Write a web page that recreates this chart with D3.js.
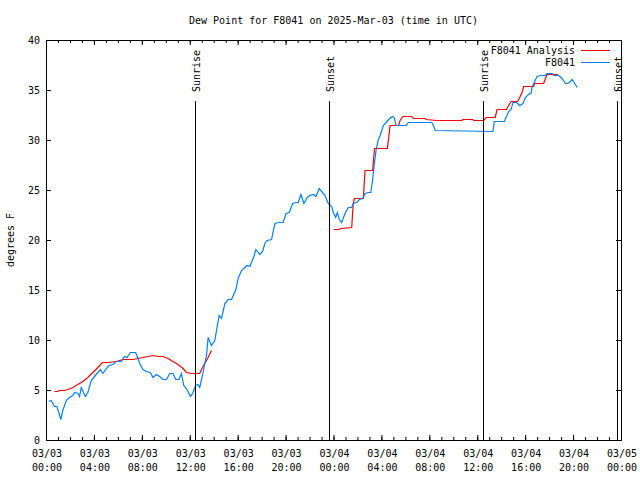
<!DOCTYPE html>
<html>
<head>
<meta charset="utf-8">
<script src="https://cdn.jsdelivr.net/npm/d3@7"></script>
<style>
  body { margin: 0; background: #fff; }
  svg { display: block; }
  text { font-family: "DejaVu Sans Mono", monospace; font-size: 10px; fill: #000; }
</style>
</head>
<body>
<svg id="chart" width="640" height="480"></svg>
<script>
// ---------------- data ----------------
const titleText = "Dew Point for F8041 on 2025-Mar-03 (time in UTC)";
const yLabelText = "degrees F";
const startTime = "2025-03-03T00:00:00Z";
const endTime = "2025-03-05T00:00:00Z";

// hours since 2025-03-03 00:00 UTC
const obsHours = [0.19,0.39,0.67,0.86,1.03,1.20,1.36,1.65,1.92,2.20,
  2.34,2.62,2.76,2.90,3.09,3.24,3.45,3.74,4.01,4.29,
  4.49,4.71,4.93,5.21,5.54,5.83,6.25,6.52,6.72,7.00,
  7.44,7.64,7.78,8.05,8.34,8.67,8.89,9.17,9.45,9.73,
  10.01,10.29,10.56,10.79,11.06,11.26,11.46,11.68,12.02,12.23,
  12.44,12.65,12.79,13.02,13.21,13.36,13.49,13.77,14.05,14.41,
  14.61,14.89,15.16,15.45,15.81,16.00,16.28,16.56,16.75,16.98,
  17.31,17.48,17.67,17.81,18.04,18.23,18.42,18.79,18.92,19.07,
  19.34,19.76,19.99,20.26,20.55,20.82,21.02,21.24,21.49,21.77,
  21.99,22.27,22.50,22.77,22.97,23.25,23.52,23.81,23.94,24.14,
  24.28,24.44,24.64,24.92,25.20,25.48,25.61,25.90,26.12,26.40,
  26.59,26.87,27.07,27.22,27.35,27.51,27.68,27.85,27.99,28.12,
  28.35,28.63,28.91,29.02,29.19,30.02,30.21,32.17,32.30,32.45,
  37.27,37.38,38.22,38.58,38.78,38.94,39.22,39.33,39.50,39.78,
  39.97,40.33,40.45,40.53,40.67,40.95,41.23,41.65,41.79,42.21,
  42.34,42.76,43.04,43.32,43.51,43.74,43.88,44.10,44.30];
const obsValues = [3.9,4.0,3.4,3.4,2.8,2.1,3.0,4.0,4.3,4.5,
  4.8,4.7,4.4,5.3,4.8,4.4,4.8,6.0,6.4,6.8,
  7.1,6.7,7.1,7.5,7.6,7.9,7.9,8.4,8.3,8.8,
  8.8,8.2,7.7,7.1,6.9,6.8,6.3,6.6,6.4,6.1,
  6.1,6.7,6.7,6.1,6.1,6.7,5.5,5.2,4.4,4.8,
  5.5,5.6,5.3,6.5,7.7,8.5,10.3,9.5,10.0,12.5,
  12.2,13.7,14.1,14.1,15.1,16.2,17.0,17.3,17.5,17.4,
  18.4,19.1,18.8,18.6,18.9,19.7,20.0,20.1,20.9,21.7,
  21.8,21.8,22.7,22.8,23.7,23.8,23.8,24.6,23.7,24.3,
  24.5,24.6,24.4,25.2,24.9,24.5,23.7,23.4,22.8,22.3,
  22.8,22.1,21.8,22.7,23.3,23.3,23.7,23.8,24.1,24.2,
  24.7,24.8,24.8,26.0,27.5,29.0,30.0,30.5,31.0,31.5,
  31.8,32.2,32.4,32.3,31.5,31.5,31.8,31.8,31.5,31.0,
  30.9,31.9,31.9,32.9,33.1,33.8,33.8,33.7,33.5,33.7,
  34.3,34.7,34.7,35.3,35.7,36.4,36.5,36.5,36.7,36.7,
  36.5,36.5,36.2,35.7,35.7,35.9,36.1,35.7,35.3];

const anaHours = [0.67,0.94,1.09,1.51,1.78,2.20,2.62,3.04,3.45,3.87,
  4.29,4.66,5.13,5.83,6.38,7.22,7.64,8.05,8.47,8.89,
  9.31,9.73,10.14,10.56,10.98,11.40,11.68,12.10,12.38,12.79,
  13.02,13.21,13.49,13.77,
  18.00,
  24.00,24.44,24.56,25.48,25.55,25.61,25.70,26.45,26.59,27.22,
  27.39,28.46,28.68,29.38,29.52,29.74,30.50,30.63,31.61,31.69,
  32.59,34.68,34.76,35.60,35.65,36.49,36.71,37.46,37.61,38.39,
  38.58,38.78,39.33,39.50,39.70,39.83,40.67,40.73,41.50,41.65,
  41.79,42.62,42.73];
const anaValues = [4.9,4.9,5.0,5.0,5.1,5.3,5.6,5.9,6.3,6.8,
  7.3,7.8,7.8,7.9,8.1,8.1,8.2,8.3,8.4,8.5,
  8.4,8.4,8.2,7.9,7.6,7.2,6.8,6.7,6.7,6.7,
  7.3,7.7,8.3,9.0,
  null,
  21.1,21.1,21.2,21.3,22.7,23.7,24.2,24.2,27.0,27.0,
  29.2,29.2,31.5,31.5,32.0,32.4,32.4,32.2,32.2,32.1,
  32.0,32.0,32.1,32.1,32.0,32.0,32.3,32.3,33.1,33.1,
  33.5,33.9,33.9,34.3,34.8,35.4,35.4,35.7,35.7,36.2,
  36.6,36.6,36.5];

const sunLabels = ["Sunrise", "Sunset", "Sunrise", "Sunset"];
const sunHours = [12.46, 23.61, 36.49, 47.64];
const sunLineTop = 34;

const seriesNames = ["F8041 Analysis", "F8041"];
const seriesColors = ["#ff0000", "#0080ff"];

const yTickValues = [0, 5, 10, 15, 20, 25, 30, 35, 40];
const xMajorHours = [0, 4, 8, 12, 16, 20, 24, 28, 32, 36, 40, 44, 48];

// ---------------- drawing ----------------
const svg = d3.select("#chart");
const t0 = new Date(startTime), t1 = new Date(endTime);
const toDate = h => new Date(t0.getTime() + h * 3600e3);

const L = 46, R = 621, T = 40, B = 440;
const x = d3.scaleUtc().domain([t0, t1]).range([L, R]);
const y = d3.scaleLinear().domain([0, 40]).range([B, T]);

const fmtDay = d3.utcFormat("%m/%d");
const fmtTime = d3.utcFormat("%H:%M");

const majorDates = xMajorHours.map(toDate);
const minorDates = d3.utcHour.every(1).range(t0, t1);

function stripDomain(g) { g.select(".domain").remove(); g.attr("font-family", null).attr("font-size", null); }

// minor ticks bottom / top
svg.append("g").attr("transform", `translate(0,${B})`)
  .call(d3.axisBottom(x).tickValues(minorDates).tickSize(-3).tickFormat(""))
  .call(stripDomain);
svg.append("g").attr("transform", `translate(0,${T})`)
  .call(d3.axisTop(x).tickValues(minorDates).tickSize(-3).tickFormat(""))
  .call(stripDomain);

// major ticks bottom with two-line labels
const bottom = svg.append("g").attr("transform", `translate(0,${B})`)
  .call(d3.axisBottom(x).tickValues(majorDates).tickSize(-5).tickFormat(""))
  .call(stripDomain);
bottom.selectAll(".tick").each(function(d) {
  const t = d3.select(this).select("text").attr("y", null).attr("dy", null).text(null);
  t.append("tspan").attr("x", 0.5).attr("y", 17).text(fmtDay(d));
  t.append("tspan").attr("x", 0.5).attr("y", 31).text(fmtTime(d));
});
svg.append("g").attr("transform", `translate(0,${T})`)
  .call(d3.axisTop(x).tickValues(majorDates).tickSize(-5).tickFormat(""))
  .call(stripDomain);

// y axes
const left = svg.append("g").attr("transform", `translate(${L},0)`)
  .call(d3.axisLeft(y).tickValues(yTickValues).tickSize(-5).tickPadding(7).tickFormat(d3.format("d")))
  .call(stripDomain);
left.selectAll("text").attr("dy", "0.35em").attr("x", -6);
svg.append("g").attr("transform", `translate(${R},0)`)
  .call(d3.axisRight(y).tickValues(yTickValues).tickSize(-5).tickFormat(""))
  .call(stripDomain);

// border
svg.append("rect")
  .attr("x", L + 0.5).attr("y", T + 0.5)
  .attr("width", R - L).attr("height", B - T)
  .attr("fill", "none").attr("stroke", "#000").attr("stroke-width", 1)
  .attr("shape-rendering", "crispEdges");

// data lines
const plot = svg.append("g").attr("transform", "translate(0.5,0.5)");
const line = d3.line()
  .defined(d => d[1] != null)
  .x(d => x(toDate(d[0])))
  .y(d => y(d[1]));

const anaData = d3.zip(anaHours, anaValues);
const obsData = d3.zip(obsHours, obsValues);

plot.append("path").datum(anaData)
  .attr("d", line).attr("fill", "none")
  .attr("stroke", seriesColors[0]).attr("stroke-width", 1.2)
  .attr("stroke-linejoin", "miter");
plot.append("path").datum(obsData)
  .attr("d", line).attr("fill", "none")
  .attr("stroke", seriesColors[1]).attr("stroke-width", 1.2)
  .attr("stroke-linejoin", "miter");

// sunrise / sunset lines
sunHours.forEach((h, i) => {
  const sx = Math.round(x(toDate(h))) + 0.5;
  svg.append("line")
    .attr("x1", sx).attr("x2", sx)
    .attr("y1", y(sunLineTop) + 0.5).attr("y2", B + 0.5)
    .attr("stroke", "#000").attr("stroke-width", 1)
    .attr("shape-rendering", "crispEdges");
  svg.append("text")
    .attr("transform", `translate(${sx + 0.5},92) rotate(-90)`)
    .attr("text-anchor", "start")
    .attr("dy", "0.35em")
    .text(sunLabels[i]);
});

// title
svg.append("text")
  .attr("x", (L + R) / 2).attr("y", 20).attr("dy", "0.35em")
  .attr("text-anchor", "middle")
  .text(titleText);

// y label
svg.append("text")
  .attr("transform", `translate(10,${(T + B) / 2}) rotate(-90)`)
  .attr("text-anchor", "middle").attr("dy", "0.35em")
  .text(yLabelText);

// legend
seriesNames.forEach((name, i) => {
  const ly = 50.5 + i * 12;
  svg.append("text")
    .attr("x", 575).attr("y", ly).attr("dy", "0.35em")
    .attr("text-anchor", "end")
    .text(name);
  svg.append("line")
    .attr("x1", 581).attr("x2", 610)
    .attr("y1", ly).attr("y2", ly)
    .attr("stroke", seriesColors[i]).attr("stroke-width", 1)
    .attr("shape-rendering", "crispEdges");
});
</script>
</body>
</html>
